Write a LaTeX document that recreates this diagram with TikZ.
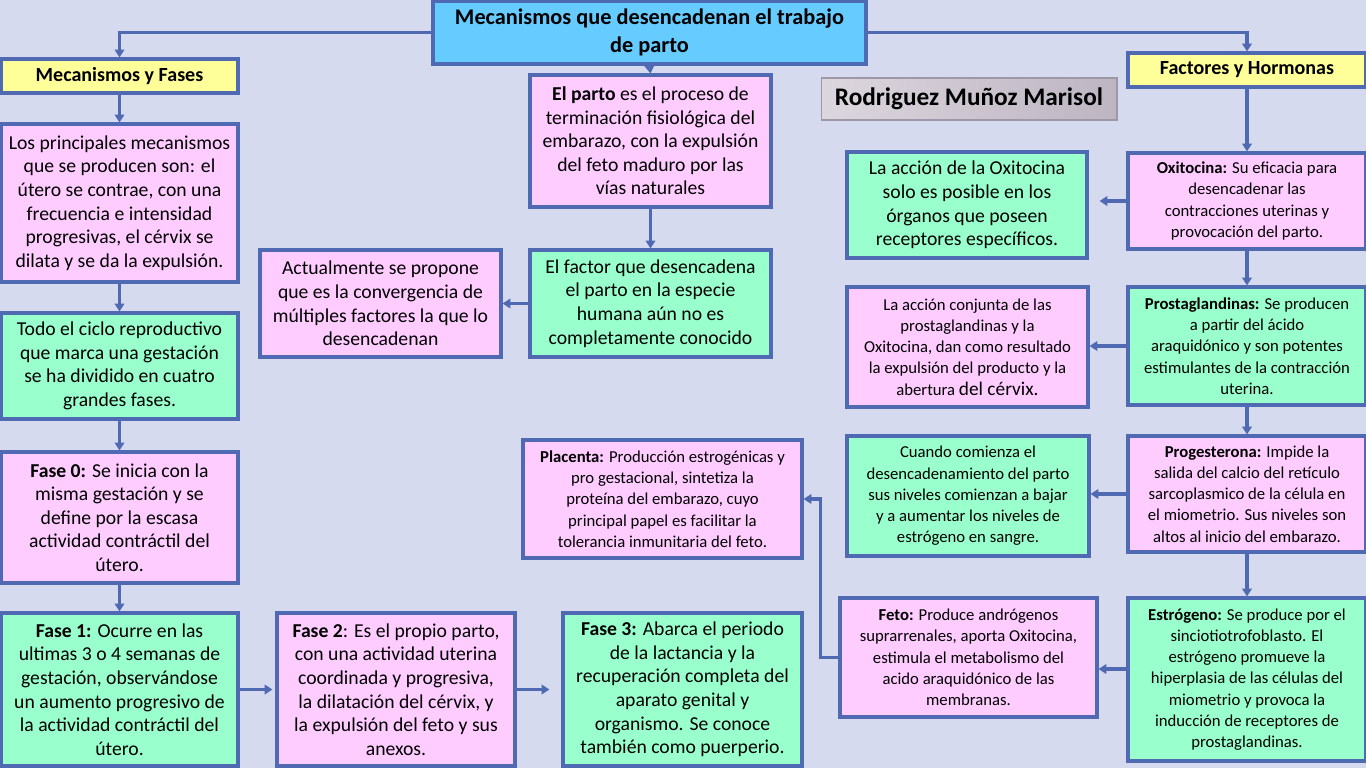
\documentclass[tikz,border=0pt]{standalone}
\usepackage{fontspec}
\setmainfont{Carlito}
\usetikzlibrary{arrows.meta,positioning}
\definecolor{azul}{HTML}{4F6AB2}
\definecolor{celeste}{HTML}{66CCFF}
\definecolor{rosa}{HTML}{FFCCFF}
\definecolor{menta}{HTML}{99FFCC}
\definecolor{amarillo}{HTML}{FFFF99}
\definecolor{fondo}{HTML}{D5DAEE}
\definecolor{grisclaro}{HTML}{DCD6DE}
\definecolor{grisoscuro}{HTML}{BDB5C2}
\definecolor{grisborde}{HTML}{9E98A6}

\begin{document}
\begin{tikzpicture}[
  x=0.02cm,y=-0.02cm,
  caja/.style={draw=azul,line width=1.8pt,align=center,inner sep=2pt,minimum width=4.78cm},
  cajarosa/.style={caja,fill=rosa},
  cajaverde/.style={caja,fill=menta},
  cajaamarilla/.style={caja,fill=amarillo,minimum height=0.68cm,
                       font=\fontsize{11.4}{13.4}\selectfont\bfseries},
  grande/.style={font=\fontsize{11.2}{13.4}\selectfont},
  chica/.style={font=\fontsize{9.5}{12.1}\selectfont},
  flecha/.style={-{Triangle[length=4.5pt,width=5.5pt]},draw=azul,line width=1.8pt}
]
  \useasboundingbox (0,0) rectangle (1366,768);
  \fill[fondo] (0,0) rectangle (1366,768);

  % cabecera
  \node[caja,fill=celeste,minimum width=8.66cm,minimum height=1.26cm,
        font=\fontsize{12.7}{15.9}\selectfont\bfseries] (titulo) at (649.5,32.5)
    {Mecanismos que desencadenan el trabajo\\de parto};
  \node[cajaamarilla,minimum width=4.74cm] (mecfases) at (119.5,76) {Mecanismos y Fases};
  \node[cajaamarilla,minimum width=4.76cm] (factores) at (1247,70) {Factores y Hormonas};
  \node[draw=grisborde,line width=0.6pt,left color=grisclaro,right color=grisoscuro,
        minimum width=5.92cm,minimum height=0.84cm,
        font=\fontsize{14.4}{16}\selectfont\bfseries] (autor) at (969,99) {Rodriguez Muñoz Marisol};

  % columna izquierda
  \node[cajarosa,grande,minimum width=4.74cm,minimum height=3.16cm] (principales) at (119.5,203)
    {Los principales mecanismos\\que se producen son: el\\útero se contrae, con una\\frecuencia e intensidad\\progresivas, el cérvix se\\dilata y se da la expulsión.};
  \node[cajaverde,grande,minimum width=4.74cm,minimum height=2.12cm] (ciclo) at (119.5,366)
    {Todo el ciclo reproductivo\\que marca una gestación\\se ha dividido en cuatro\\grandes fases.};
  \node[cajarosa,grande,minimum width=4.74cm,minimum height=2.62cm] (fase0) at (119.5,517.5)
    {\textbf{Fase 0:} Se inicia con la\\misma gestación y se\\define por la escasa\\actividad contráctil del\\útero.};
  \node[cajaverde,grande,minimum width=4.74cm,minimum height=3.06cm] (fase1) at (119.5,689.5)
    {\textbf{Fase 1:} Ocurre en las\\ultimas 3 o 4 semanas de\\gestación, observándose\\un aumento progresivo de\\la actividad contráctil del\\útero.};
  \node[cajarosa,grande,minimum width=4.76cm,minimum height=3.06cm] (fase2) at (396,689.5)
    {\textbf{Fase 2}: Es el propio parto,\\con una actividad uterina\\coordinada y progresiva,\\la dilatación del cérvix, y\\la expulsión del feto y sus\\anexos.};
  \node[cajaverde,grande,minimum width=4.78cm,minimum height=3.06cm] (fase3) at (682.5,689.5)
    {\textbf{Fase 3:} Abarca el periodo\\de la lactancia y la\\recuperación completa del\\aparato genital y\\organismo. Se conoce\\también como puerperio.};

  % centro
  \node[cajarosa,grande,minimum width=4.82cm,minimum height=2.64cm] (parto) at (650.5,141)
    {\textbf{El parto} es el proceso de\\terminación fisiológica del\\embarazo, con la expulsión\\del feto maduro por las\\vías naturales};
  \node[cajaverde,grande,minimum width=4.82cm,minimum height=2.14cm] (factor) at (650.5,303.5)
    {El factor que desencadena\\el parto en la especie\\humana aún no es\\completamente conocido};
  \node[cajarosa,grande,minimum width=4.82cm,minimum height=2.14cm] (actual) at (380.5,303.5)
    {Actualmente se propone\\que es la convergencia de\\múltiples factores la que lo\\desencadenan};
  \node[cajarosa,chica,minimum width=5.58cm,minimum height=2.36cm] (placenta) at (662.5,499)
    {\textbf{Placenta:} Producción estrogénicas y\\pro gestacional, sintetiza la\\proteína del embarazo, cuyo\\principal papel es facilitar la\\tolerancia inmunitaria del feto.};

  % efectos
  \node[cajaverde,grande,minimum width=4.8cm,minimum height=2.12cm] (accionoxi) at (967,205)
    {La acción de la Oxitocina\\solo es posible en los\\órganos que poseen\\receptores específicos.};
  \node[cajarosa,chica,minimum width=4.82cm,minimum height=2.4cm] (conjunta) at (967.5,347)
    {La acción conjunta de las\\prostaglandinas y la\\Oxitocina, dan como resultado\\la expulsión del producto y la\\abertura {\fontsize{11}{12.1}\selectfont del cérvix.}};
  \node[cajaverde,chica,minimum width=4.84cm,minimum height=2.4cm] (cuando) at (968,496)
    {Cuando comienza el\\desencadenamiento del parto\\sus niveles comienzan a bajar\\y a aumentar los niveles de\\estrógeno en sangre.};
  \node[cajarosa,chica,minimum width=5.14cm,minimum height=2.38cm] (feto) at (968.5,657.5)
    {\textbf{Feto:} Produce andrógenos\\suprarrenales, aporta Oxitocina,\\estimula el metabolismo del\\acido araquidónico de las\\membranas.};

  % hormonas
  \node[cajarosa,chica,minimum width=4.76cm,minimum height=1.92cm] (oxitocina) at (1247,201)
    {\textbf{Oxitocina:} Su eficacia para\\desencadenar las\\contracciones uterinas y\\provocación del parto.};
  \node[cajaverde,chica,minimum width=4.76cm,minimum height=2.36cm] (prosta) at (1247,346)
    {\textbf{Prostaglandinas:} Se producen\\a partir del ácido\\araquidónico y son potentes\\estimulantes de la contracción\\uterina.};
  \node[cajarosa,chica,minimum width=4.76cm,minimum height=2.32cm] (progest) at (1247,494)
    {\textbf{Progesterona:} Impide la\\salida del calcio del retículo\\sarcoplasmico de la célula en\\el miometrio. Sus niveles son\\altos al inicio del embarazo.};
  \node[cajaverde,chica,minimum width=4.76cm,minimum height=3.26cm] (estrogeno) at (1247,679.5)
    {\textbf{Estrógeno:} Se produce por el\\sinciotiotrofoblasto. El\\estrógeno promueve la\\hiperplasia de las células del\\miometrio y provoca la\\inducción de receptores de\\prostaglandinas.};

  % conectores
  \draw[flecha] (titulo.west) -| (mecfases.north);
  \draw[flecha] (titulo.east) -| (factores.north);
  \draw[flecha] (titulo.south) -- (parto.north);
  \draw[flecha] (mecfases) -- (principales);
  \draw[flecha] (principales) -- (ciclo);
  \draw[flecha] (ciclo) -- (fase0);
  \draw[flecha] (fase0) -- (fase1);
  \draw[flecha,shorten >=0.06cm] (fase1) -- (fase2);
  \draw[flecha,shorten >=0.24cm] (fase2) -- (fase3);
  \draw[flecha] (parto) -- (factor);
  \draw[flecha] (factor) -- (actual);
  \draw[flecha] (factores) -- (oxitocina);
  \draw[flecha] (oxitocina) -- (prosta);
  \draw[flecha] (prosta) -- (progest);
  \draw[flecha] (progest) -- (estrogeno);
  \draw[flecha,shorten >=0.22cm] (oxitocina.west) -- (oxitocina.west -| accionoxi.east);
  \draw[flecha] (prosta.west) -- (prosta.west -| conjunta.east);
  \draw[flecha] (progest.west) -- (progest.west -| cuando.east);
  \coordinate (salida) at ([yshift=0.21cm]estrogeno.west);
  \draw[flecha] (salida) -- (salida -| feto.east);
  \draw[flecha] (feto.west) -- ++(-18,0) |- (placenta.east);
\end{tikzpicture}
\end{document}
